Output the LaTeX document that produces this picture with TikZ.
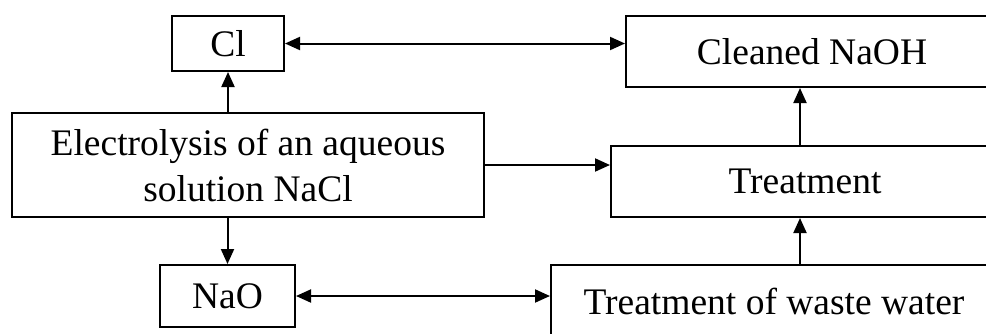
\documentclass[tikz,border=0pt]{standalone}
\usepackage{fontspec}
\setmainfont{Liberation Serif}
\usetikzlibrary{arrows.meta}
\begin{document}
\begin{tikzpicture}[x=1pt,y=-1pt,
  box/.style={draw,line width=2pt,inner sep=0pt,align=center,font=\fontsize{37.5}{46}\selectfont},
  conn/.style={line width=2pt,-{Triangle[length=15pt,width=13pt]}},
  bconn/.style={line width=2pt,{Triangle[length=15pt,width=13pt]}-{Triangle[length=15pt,width=13pt]}}]
\clip (0,0) rectangle (986,333);
\useasboundingbox (0,0) rectangle (986,333);
\node[box,minimum width=112pt,minimum height=55pt] (cl) at (228,43.5) {Cl};
\node[box,minimum width=372pt,minimum height=71pt] (naoh) at (812,51.5) {Cleaned NaOH};
\node[box,minimum width=472pt,minimum height=104pt] (elec) at (248,165) {Electrolysis of an aqueous\\solution NaCl};
\node[box,minimum width=388pt,minimum height=71pt] (treat) at (805,181.5) {Treatment};
\node[box,minimum width=135pt,minimum height=62pt] (nao) at (227.5,296) {NaO};
\node[box,minimum width=446pt,minimum height=80pt] (waste) at (774,305) {\raisebox{8pt}{Treatment of waste water}};
\draw[bconn] (cl.east) -- (cl.east -| naoh.west);
\draw[conn] (cl.south |- elec.north) -- (cl.south);
\draw[conn] (elec.east) -- (elec.east -| treat.west);
\coordinate (up) at (800,0);
\draw[conn] (up |- treat.north) -- (up |- naoh.south);
\draw[conn] (nao.north |- elec.south) -- (nao.north);
\draw[bconn] (nao.east) -- (nao.east -| waste.west);
\draw[conn] (up |- waste.north) -- (up |- treat.south);
\end{tikzpicture}
\end{document}
